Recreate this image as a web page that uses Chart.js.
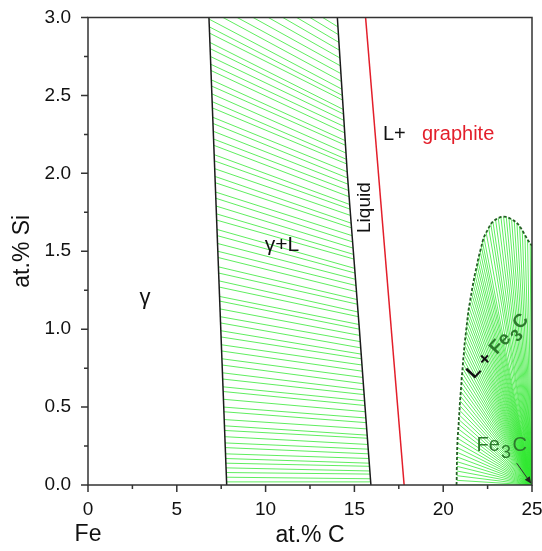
<!DOCTYPE html>
<html>
<head>
<meta charset="utf-8">
<title>Fe-C-Si isothermal section</title>
<script src="https://cdn.jsdelivr.net/npm/chart.js@4.4.1/dist/chart.umd.min.js"></script>
<style>
  html, body { margin: 0; padding: 0; background: #fff; }
  #wrap { width: 542px; height: 551px; }
</style>
</head>
<body>
<div id="wrap"><canvas id="phaseChart" width="542" height="551"></canvas></div>
<script>
// Labelled ticks (minor ticks sit halfway between them)
const xTickValues = [0, 5, 10, 15, 20, 25];
const yTickValues = [0, 0.5, 1.0, 1.5, 2.0, 2.5, 3.0];

// Phase boundaries as [at.% C, at.% Si]
const gammaBoundary = [[7.81, 0], [6.81, 3]];
const liquidBoundary = [[15.93, 0], [15.60, 0.5], [15.28, 1.0], [14.94, 1.5], [14.60, 2.0], [14.32, 2.5], [14.04, 3.0]];
const graphiteBoundary = [[17.80, 0], [15.63, 3]];

// Liquid edge of L + Fe3C (dashed), also the free ends of its tie lines
const cementiteBoundary = [
  [20.75, 0], [20.76, 0.03], [20.76, 0.06], [20.76, 0.09], [20.77, 0.12], [20.77, 0.15],
  [20.78, 0.18], [20.78, 0.21], [20.79, 0.24], [20.80, 0.27], [20.81, 0.30], [20.83, 0.33],
  [20.85, 0.36], [20.87, 0.39], [20.88, 0.42], [20.90, 0.45], [20.92, 0.48], [20.93, 0.51],
  [20.95, 0.54], [20.97, 0.57], [20.99, 0.60], [21.01, 0.63], [21.03, 0.66], [21.04, 0.69],
  [21.07, 0.72], [21.09, 0.75], [21.11, 0.78], [21.13, 0.81], [21.16, 0.84], [21.18, 0.87],
  [21.20, 0.90], [21.23, 0.93], [21.26, 0.96], [21.29, 0.99], [21.32, 1.02], [21.35, 1.05],
  [21.38, 1.08], [21.41, 1.11], [21.45, 1.14], [21.50, 1.17], [21.54, 1.20], [21.59, 1.23],
  [21.63, 1.26], [21.68, 1.29], [21.73, 1.32], [21.78, 1.35], [21.84, 1.38], [21.90, 1.41],
  [21.95, 1.44], [22.01, 1.47], [22.08, 1.50], [22.15, 1.53], [22.21, 1.56], [22.29, 1.59],
  [22.42, 1.62], [22.56, 1.65], [22.68, 1.675], [22.80, 1.690], [22.95, 1.703], [23.10, 1.713],
  [23.25, 1.720], [23.40, 1.722], [23.55, 1.720], [23.70, 1.714], [23.85, 1.705], [24.00, 1.695],
  [24.15, 1.682], [24.30, 1.662], [24.45, 1.635], [24.60, 1.605], [24.75, 1.575], [24.90, 1.550],
  [25.00, 1.535]
];
const cementitePoint = [25, 0];

// gamma + L tie lines: [C in gamma, Si in gamma, C in liquid, Si in liquid]
const gammaLiquidTies = [
  [7.80, 0.02, 15.92, 0.02], [7.79, 0.05, 15.90, 0.04], [7.78, 0.08, 15.88, 0.07],
  [7.77, 0.11, 15.87, 0.09], [7.76, 0.14, 15.85, 0.12], [7.75, 0.17, 15.84, 0.14],
  [7.74, 0.20, 15.82, 0.17], [7.73, 0.24, 15.80, 0.20], [7.72, 0.27, 15.78, 0.23],
  [7.71, 0.31, 15.76, 0.26], [7.69, 0.35, 15.74, 0.30], [7.68, 0.38, 15.72, 0.32],
  [7.67, 0.42, 15.70, 0.36], [7.65, 0.47, 15.67, 0.40], [7.64, 0.50, 15.65, 0.43],
  [7.63, 0.55, 15.62, 0.47], [7.61, 0.60, 15.60, 0.51], [7.60, 0.63, 15.58, 0.54],
  [7.58, 0.68, 15.55, 0.58], [7.57, 0.72, 15.53, 0.61], [7.55, 0.77, 15.51, 0.65],
  [7.54, 0.81, 15.48, 0.69], [7.52, 0.86, 15.46, 0.73], [7.51, 0.90, 15.43, 0.77],
  [7.49, 0.95, 15.40, 0.81], [7.48, 0.99, 15.38, 0.84], [7.46, 1.04, 15.36, 0.88],
  [7.45, 1.08, 15.33, 0.92], [7.43, 1.13, 15.30, 0.96], [7.42, 1.18, 15.28, 1.00],
  [7.41, 1.21, 15.26, 1.03], [7.39, 1.27, 15.23, 1.08], [7.37, 1.31, 15.21, 1.11],
  [7.36, 1.36, 15.17, 1.16], [7.34, 1.40, 15.15, 1.19], [7.32, 1.46, 15.12, 1.24],
  [7.31, 1.50, 15.09, 1.28], [7.29, 1.55, 15.06, 1.32], [7.28, 1.60, 15.04, 1.36],
  [7.26, 1.64, 15.02, 1.39], [7.24, 1.70, 14.97, 1.45], [7.23, 1.74, 14.95, 1.48],
  [7.21, 1.79, 14.93, 1.52], [7.20, 1.84, 14.90, 1.56], [7.18, 1.88, 14.87, 1.60],
  [7.16, 1.94, 14.84, 1.65], [7.15, 1.98, 14.82, 1.68], [7.13, 2.03, 14.78, 1.73],
  [7.12, 2.08, 14.76, 1.77], [7.10, 2.12, 14.74, 1.80], [7.08, 2.18, 14.70, 1.85],
  [7.07, 2.22, 14.67, 1.89], [7.05, 2.27, 14.65, 1.93], [7.04, 2.32, 14.62, 1.97],
  [7.02, 2.36, 14.59, 2.01], [7.00, 2.42, 14.57, 2.06], [6.99, 2.46, 14.55, 2.09],
  [6.97, 2.51, 14.53, 2.13], [6.96, 2.56, 14.50, 2.18], [6.94, 2.60, 14.48, 2.21],
  [6.92, 2.66, 14.45, 2.26], [6.91, 2.70, 14.43, 2.30], [6.89, 2.75, 14.41, 2.34],
  [6.88, 2.80, 14.39, 2.38], [6.86, 2.84, 14.37, 2.41], [6.84, 2.90, 14.34, 2.47],
  [6.83, 2.94, 14.32, 2.50], [6.81, 2.99, 14.30, 2.54], [6.79, 3.05, 14.27, 2.59],
  [6.78, 3.10, 14.24, 2.64], [6.76, 3.16, 14.21, 2.69], [6.74, 3.22, 14.19, 2.74],
  [6.72, 3.28, 14.16, 2.79], [6.70, 3.34, 14.13, 2.84], [6.68, 3.40, 14.10, 2.89],
  [6.66, 3.46, 14.07, 2.94]
];

const FONT = "'Liberation Sans', Arial, sans-serif";
const TIE_GREEN = "rgba(50, 232, 50, 0.78)";
const DARK_GREEN = "#2c7a2c";

const pts = (arr) => arr.map(([c, si]) => ({ x: c, y: si }));

const boundaryStyle = { borderWidth: 1.5, pointRadius: 0, showLine: true, clip: 0 };

const datasets = [
  { ...boundaryStyle, data: pts(gammaBoundary), borderColor: "#1b1b1b" },
  { ...boundaryStyle, data: pts(liquidBoundary), borderColor: "#1b1b1b" },
  { ...boundaryStyle, data: pts(graphiteBoundary), borderColor: "#e31e2a" },
  { ...boundaryStyle, data: pts(cementiteBoundary), borderColor: "#245f24", borderWidth: 1.8, borderDash: [3, 2] },
  ...gammaLiquidTies.map(([cg, sg, cl, sl]) => ({
    data: [{ x: cg, y: sg }, { x: cl, y: sl }],
    borderColor: TIE_GREEN, borderWidth: 1, pointRadius: 0, showLine: true, clip: 0
  })),
  ...cementiteBoundary.map(([c, si]) => ({
    data: [{ x: c, y: si }, { x: cementitePoint[0], y: cementitePoint[1] }],
    borderColor: TIE_GREEN, borderWidth: 1, pointRadius: 0, showLine: true, clip: 0
  }))
];

// writes "Fe" + subscript 3 + "C" starting at (x, y)
function drawFe3C(ctx, x, y, size, weight) {
  ctx.textAlign = "left";
  ctx.font = `${weight} ${size}px ${FONT}`;
  ctx.fillText("Fe", x, y);
  let w = ctx.measureText("Fe").width + 1;
  ctx.font = `${weight} ${size * 0.9}px ${FONT}`;
  ctx.fillText("3", x + w, y + size * 0.38);
  w += ctx.measureText("3").width + 1.5;
  ctx.font = `${weight} ${size}px ${FONT}`;
  ctx.fillText("C", x + w, y);
}

function fe3cWidth(ctx, size, weight) {
  ctx.font = `${weight} ${size}px ${FONT}`;
  const w = ctx.measureText("Fe").width + ctx.measureText("C").width + 2.5;
  ctx.font = `${weight} ${size * 0.9}px ${FONT}`;
  return w + ctx.measureText("3").width;
}

// region names, arrow and the axis frame with major/minor ticks
const diagramLabels = {
  id: "diagramLabels",
  afterDatasetsDraw(chart) {
    const { ctx, scales: { x, y } } = chart;
    const px = (c) => x.getPixelForValue(c);
    const py = (si) => y.getPixelForValue(si);
    ctx.save();
    ctx.textBaseline = "middle";
    ctx.fillStyle = "#111";

    ctx.textAlign = "center";
    ctx.font = `22px ${FONT}`;
    ctx.fillText("γ", px(3.21), py(1.20));
    ctx.font = `21px ${FONT}`;
    ctx.fillText("γ+L", px(10.92), py(1.54));

    // liquid label along the liquidus
    ctx.save();
    ctx.translate(px(15.56), py(1.78));
    ctx.rotate(-Math.PI / 2);
    ctx.font = `19px ${FONT}`;
    ctx.fillText("Liquid", 0, 0);
    ctx.restore();

    // L+ graphite
    ctx.textAlign = "left";
    ctx.font = `20px ${FONT}`;
    ctx.fillText("L+", px(16.61), py(2.25));
    ctx.fillStyle = "#e31e2a";
    ctx.fillText("graphite", px(16.61) + 39, py(2.25));

    // L + Fe3C along the fan
    ctx.save();
    ctx.translate(px(23.08), py(0.89));
    ctx.rotate(-47 * Math.PI / 180);
    ctx.textBaseline = "middle";
    ctx.font = `bold 19px ${FONT}`;
    const head = "L + ";
    const hw = ctx.measureText(head).width;
    const total = hw + fe3cWidth(ctx, 19, "bold");
    ctx.font = `bold 19px ${FONT}`;
    ctx.textAlign = "left";
    ctx.fillStyle = "#111";
    ctx.fillText(head, -total / 2, 0);
    ctx.fillStyle = DARK_GREEN;
    drawFe3C(ctx, -total / 2 + hw, 0, 19, "bold");
    ctx.restore();

    // Fe3C corner label with its arrow
    ctx.textBaseline = "alphabetic";
    ctx.fillStyle = DARK_GREEN;
    drawFe3C(ctx, px(21.88), py(0.22), 20, "normal");

    const ax0 = px(24.14), ay0 = py(0.14), ax1 = px(24.96), ay1 = py(0.008);
    const ang = Math.atan2(ay1 - ay0, ax1 - ax0);
    ctx.strokeStyle = "#333";
    ctx.fillStyle = "#222";
    ctx.lineWidth = 1;
    ctx.beginPath();
    ctx.moveTo(ax0, ay0);
    ctx.lineTo(ax1 - 5 * Math.cos(ang), ay1 - 5 * Math.sin(ang));
    ctx.stroke();
    ctx.beginPath();
    ctx.moveTo(ax1, ay1);
    ctx.lineTo(ax1 - 7 * Math.cos(ang) + 3 * Math.sin(ang), ay1 - 7 * Math.sin(ang) - 3 * Math.cos(ang));
    ctx.lineTo(ax1 - 7 * Math.cos(ang) - 3 * Math.sin(ang), ay1 - 7 * Math.sin(ang) + 3 * Math.cos(ang));
    ctx.closePath();
    ctx.fill();
    ctx.restore();
  },
  afterDraw(chart) {
    const { ctx, chartArea: a, scales: { x, y } } = chart;
    ctx.save();
    ctx.strokeStyle = "#333";
    ctx.lineWidth = 1.5;
    ctx.strokeRect(a.left, a.top, a.right - a.left, a.bottom - a.top);
    ctx.beginPath();
    x.ticks.forEach((t) => {
      const p = x.getPixelForValue(t.value);
      const len = xTickValues.includes(t.value) ? 7 : 4;
      ctx.moveTo(p, a.bottom);
      ctx.lineTo(p, a.bottom + len);
    });
    y.ticks.forEach((t) => {
      const p = y.getPixelForValue(t.value);
      const len = yTickValues.includes(t.value) ? 7 : 4;
      ctx.moveTo(a.left, p);
      ctx.lineTo(a.left - len, p);
    });
    ctx.stroke();

    ctx.fillStyle = "#111";
    ctx.font = `23px ${FONT}`;
    ctx.textAlign = "center";
    ctx.textBaseline = "middle";
    ctx.fillText("Fe", x.getPixelForValue(0), 535);
    ctx.restore();
  }
};

const tickFont = { family: FONT, size: 19 };
const titleFont = { family: FONT, size: 23 };

new Chart(document.getElementById("phaseChart"), {
  type: "scatter",
  data: { datasets },
  options: {
    responsive: false,
    animation: false,
    events: [],
    layout: { padding: { top: 17.5, right: 10, left: 0, bottom: 0 } },
    plugins: { legend: { display: false }, tooltip: { enabled: false } },
    scales: {
      x: {
        type: "linear",
        min: 0,
        max: 25,
        border: { display: false },
        grid: { display: false, drawTicks: true, tickLength: 7 },
        ticks: {
          stepSize: 2.5,
          autoSkip: false,
          maxRotation: 0,
          padding: 6,
          color: "#111",
          font: tickFont,
          callback: (v) => (xTickValues.includes(v) ? String(v) : "")
        },
        title: { display: true, text: "at.% C", color: "#111", font: titleFont, padding: { top: 0, bottom: 2 } },
        afterFit: (scale) => {
          scale.height = 66;
          scale.paddingLeft = 0;
          scale.paddingRight = 0;
        }
      },
      y: {
        type: "linear",
        min: 0,
        max: 3,
        border: { display: false },
        grid: { display: false, drawTicks: true, tickLength: 7 },
        ticks: {
          stepSize: 0.25,
          autoSkip: false,
          padding: 10,
          color: "#111",
          font: tickFont,
          callback: (v) => (yTickValues.includes(v) ? v.toFixed(1) : "")
        },
        title: { display: true, text: "at.% Si", color: "#111", font: titleFont, padding: { top: 9, bottom: 0 } },
        afterFit: (scale) => {
          scale.width = 88;
          scale.paddingTop = 0;
          scale.paddingBottom = 0;
        }
      }
    }
  },
  plugins: [diagramLabels]
});
</script>
</body>
</html>
